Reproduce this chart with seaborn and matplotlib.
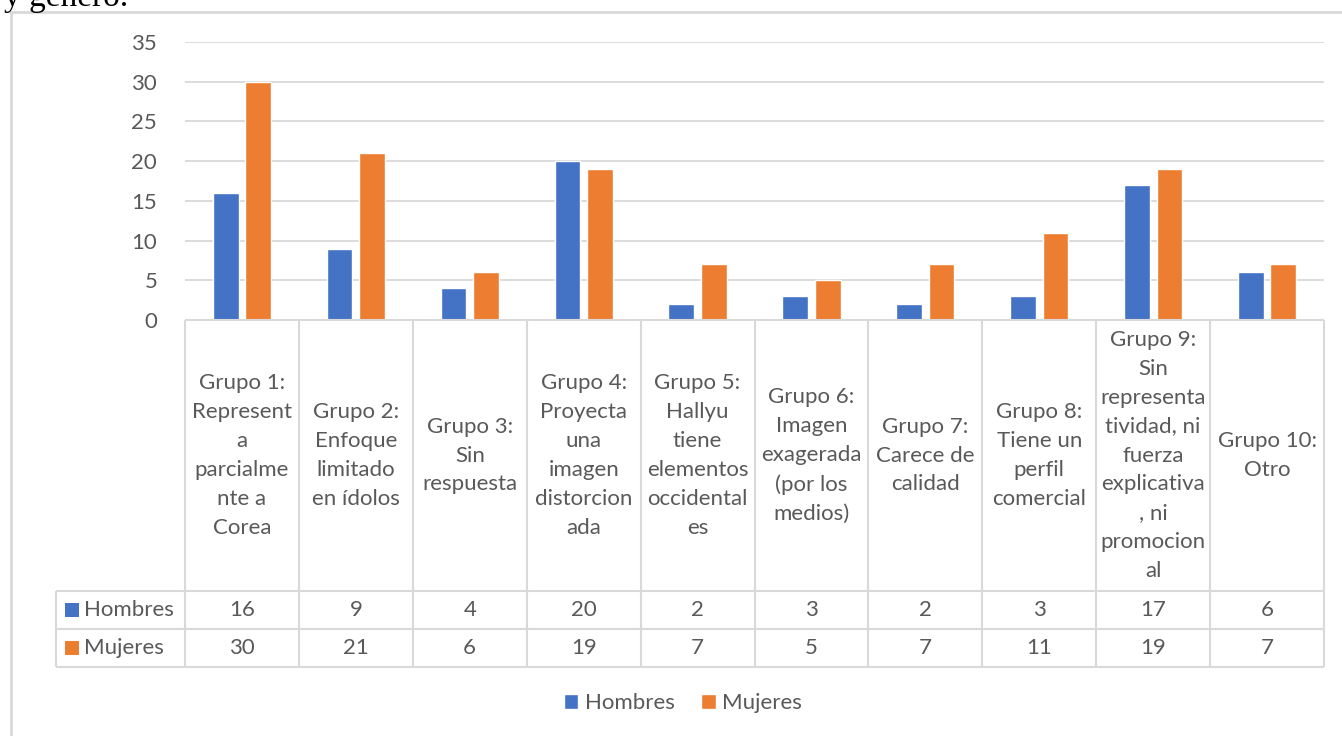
import matplotlib
matplotlib.use("Agg")
import matplotlib.pyplot as plt
from matplotlib.patches import Rectangle
import seaborn as sns
import pandas as pd

# Category labels (wrapped as they appear in the table header cells)
categories = [
    "Grupo 1:\nRepresent\na\nparcialme\nnte a\nCorea",
    "Grupo 2:\nEnfoque\nlimitado\nen ídolos",
    "Grupo 3:\nSin\nrespuesta",
    "Grupo 4:\nProyecta\nuna\nimagen\ndistorcion\nada",
    "Grupo 5:\nHallyu\ntiene\nelementos\noccidental\nes",
    "Grupo 6:\nImagen\nexagerada\n(por los\nmedios)",
    "Grupo 7:\nCarece de\ncalidad",
    "Grupo 8:\nTiene un\nperfil\ncomercial",
    "Grupo 9:\nSin\nrepresenta\ntividad, ni\nfuerza\nexplicativa\n, ni\npromocion\nal",
    "Grupo 10:\nOtro",
]
series_names = ["Hombres", "Mujeres"]
hombres = [16, 9, 4, 20, 2, 3, 2, 3, 17, 6]
mujeres = [30, 21, 6, 19, 7, 5, 7, 11, 19, 7]
y_ticks = [0, 5, 10, 15, 20, 25, 30, 35]

colors = ["#4472C4", "#ED7D31"]
text_col = "#595959"
line_col = "#D9D9D9"
FONT = "Lato"
FS = 16

sns.set_theme(style="white")
plt.rcParams["font.family"] = [FONT, "DejaVu Sans"]

W, H = 1342, 736
fig = plt.figure(figsize=(W / 100, H / 100), dpi=100)

# pixel geometry of the plot / table
x0, x1 = 185, 1324
y_top, y_zero = 42, 320
ax = fig.add_axes([x0 / W, 1 - y_zero / H, (x1 - x0) / W, (y_zero - y_top) / H])

df = pd.DataFrame({
    "cat": list(range(len(categories))) * 2,
    "serie": [series_names[0]] * len(hombres) + [series_names[1]] * len(mujeres),
    "valor": hombres + mujeres,
})
sns.barplot(data=df, x="cat", y="valor", hue="serie", palette=colors,
            width=0.57, gap=0.21, ax=ax, saturation=1, zorder=3)
handles, labels = ax.get_legend_handles_labels()
if ax.get_legend() is not None:
    ax.get_legend().remove()

ax.set_xlim(-0.5, len(categories) - 0.5)
ax.set_ylim(0, 35)
ax.set_yticks(y_ticks)
ax.set_yticklabels([str(t) for t in y_ticks], color=text_col, fontsize=FS)
ax.tick_params(axis="y", length=0, pad=20)
ax.set_xticks([])
ax.set_xlabel("")
ax.set_ylabel("")
for s in ax.spines.values():
    s.set_visible(False)
ax.yaxis.grid(True, color=line_col, linewidth=1.3, zorder=0)
ax.set_axisbelow(True)

# overlay in pixel coordinates for the data table and frame
ov = fig.add_axes([0, 0, 1, 1], facecolor="none")
ov.set_xlim(0, W)
ov.set_ylim(H, 0)
ov.axis("off")

# chart frame
ov.plot([11, 11], [12, H], color=line_col, lw=2)
ov.plot([11, W], [12, 12], color=line_col, lw=2)

# partial caption above the chart
ov.text(4, 6, "y género.", fontsize=24, family="Liberation Serif",
        color="black", ha="left", va="baseline")

n = len(categories)
colw = (x1 - x0) / n
row_lbl_x = 56
r_head_bot, r1_bot, r2_bot = 591, 629, 667
tl = dict(color=line_col, lw=1.5, solid_capstyle="butt")

# horizontal table lines
ov.plot([x0, x1], [y_zero, y_zero], **tl)
for yy in (r_head_bot, r1_bot, r2_bot):
    ov.plot([row_lbl_x, x1], [yy, yy], **tl)
# vertical table lines
for i in range(n + 1):
    xx = x0 + i * colw
    ov.plot([xx, xx], [y_zero, r2_bot], **tl)
ov.plot([row_lbl_x, row_lbl_x], [r_head_bot, r2_bot], **tl)

# header cells
for i, lab in enumerate(categories):
    cx = x0 + (i + 0.5) * colw
    ov.text(cx, (y_zero + r_head_bot) / 2, lab, ha="center", va="center",
            fontsize=FS, color=text_col, linespacing=1.56)

# value rows
rows = [(hombres, (r_head_bot + r1_bot) / 2), (mujeres, (r1_bot + r2_bot) / 2)]
for k, (vals, cy) in enumerate(rows):
    ov.add_patch(Rectangle((65, cy - 7), 14, 14, color=colors[k], lw=0))
    ov.text(84, cy, series_names[k], ha="left", va="center",
            fontsize=FS, color=text_col)
    for i, v in enumerate(vals):
        ov.text(x0 + (i + 0.5) * colw, cy, str(v), ha="center", va="center",
                fontsize=FS, color=text_col)

# legend below the table
leg = fig.legend(handles, labels, loc="center", bbox_to_anchor=(683 / W, 1 - 703 / H),
                 ncol=2, frameon=False, fontsize=FS, handlelength=0.65,
                 handleheight=0.65, handletextpad=0.3, columnspacing=1.2)
for t in leg.get_texts():
    t.set_color(text_col)

fig.savefig("out.png", dpi=100)
